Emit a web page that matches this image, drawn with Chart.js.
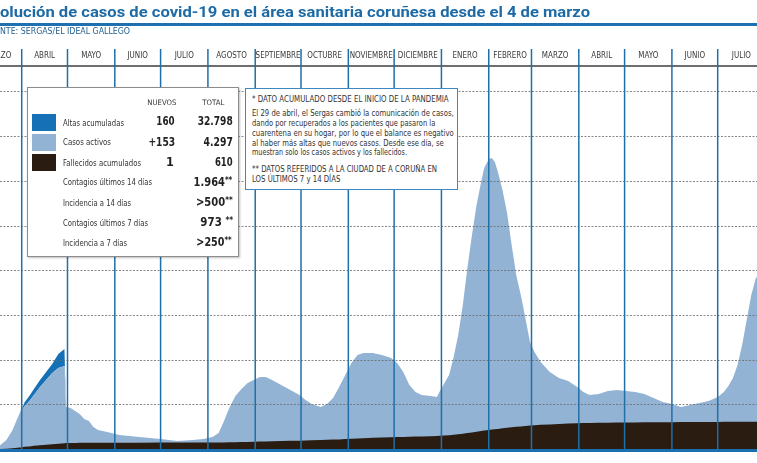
<!DOCTYPE html>
<html><head><meta charset="utf-8">
<script src="https://cdn.jsdelivr.net/npm/chart.js@4.4.0/dist/chart.umd.min.js"></script>
<style>
html,body{margin:0;padding:0;background:#fff;width:757px;height:463px;overflow:hidden;}
#wrap{position:absolute;left:0;top:0;width:757px;height:463px;}
.t{position:absolute;white-space:nowrap;font-family:"Liberation Sans Narrow","DejaVu Sans Condensed","Liberation Sans",sans-serif;color:#333;}
.l{transform-origin:left center;}
.r{transform-origin:right center;text-align:right;}
.lab{font-size:8.5px;line-height:12px;}
.num{font-size:12.6px;line-height:14px;font-weight:bold;color:#222;}
.num sup{font-size:9px;vertical-align:3px;line-height:0;}
.hd{font-size:7.5px;line-height:10px;}
.p{font-size:8.3px;line-height:10px;color:#333;}
#title{left:0;top:3px;font-family:Roboto,"Liberation Sans",sans-serif;font-weight:bold;font-size:15px;line-height:18px;color:#1d6aa5;}
#rule{position:absolute;left:0;top:23px;width:757px;height:2.5px;background:#1f70b0;}
#src{left:0;top:27px;font-size:8px;line-height:10px;color:#26618f;}
#box1{position:absolute;left:27px;top:87px;width:212px;height:170px;box-sizing:border-box;border:1px solid #8c8c8c;background:#fff;box-shadow:1px 1px 2px rgba(0,0,0,0.25);}
#box2{position:absolute;left:245px;top:88px;width:213px;height:102px;box-sizing:border-box;border:1.5px solid #3d87c3;background:#fff;}
.sw{position:absolute;left:32px;width:24px;height:17px;}
</style></head>
<body>
<div id="wrap"><canvas id="c"></canvas></div>
<div id="title" class="t l" data-w="590">olución de casos de covid-19 en el área sanitaria coruñesa desde el 4 de marzo</div>
<div id="rule"></div>
<div id="src" class="t l" data-w="130">NTE: SERGAS/EL IDEAL GALLEGO</div>

<div id="box1"></div>
<div class="sw" style="top:114px;background:#1570b5"></div>
<div class="sw" style="top:134px;background:#93b3d4"></div>
<div class="sw" style="top:154px;background:#2a1c10"></div>
<div class="t r hd" style="right:581px;top:98px" data-w="29">NUEVOS</div>
<div class="t r hd" style="right:533px;top:98px" data-w="22">TOTAL</div>
<div class="t l lab" style="left:63px;top:117px" data-w="61">Altas acumuladas</div>
<div class="t l lab" style="left:63px;top:136px" data-w="48">Casos activos</div>
<div class="t l lab" style="left:63px;top:157px" data-w="78">Fallecidos acumulados</div>
<div class="t l lab" style="left:63px;top:176px" data-w="89">Contagios últimos 14 días</div>
<div class="t l lab" style="left:63px;top:197px" data-w="68">Incidencia a 14 días</div>
<div class="t l lab" style="left:63px;top:217px" data-w="85">Contagios últimos 7 días</div>
<div class="t l lab" style="left:63px;top:237px" data-w="64">Incidencia a 7 días</div>
<div class="t r num" style="right:582px;top:114px" data-w="18.3">160</div>
<div class="t r num" style="right:582px;top:134.5px" data-w="26.7">+153</div>
<div class="t r num" style="right:583px;top:154.5px">1</div>
<div class="t r num" style="right:524px;top:114px" data-w="35">32.798</div>
<div class="t r num" style="right:524px;top:134.5px" data-w="29.3">4.297</div>
<div class="t r num" style="right:524px;top:154.5px" data-w="17.7">610</div>
<div class="t r num" style="right:525px;top:174.5px" data-w="38.7">1.964<sup>**</sup></div>
<div class="t r num" style="right:524px;top:194.5px" data-w="36.7">&gt;500<sup>**</sup></div>
<div class="t r num" style="right:524px;top:214.5px" data-w="32.7">973 <sup>**</sup></div>
<div class="t r num" style="right:525px;top:234.5px" data-w="35.3">&gt;250<sup>**</sup></div>

<div id="box2"></div>
<div class="t l p" style="left:252px;top:94px" data-w="196.7">* DATO ACUMULADO DESDE EL INICIO DE LA PANDEMIA</div>
<div class="t l p" style="left:252px;top:107.7px" data-w="201.7">El 29 de abril, el Sergas cambió la comunicación de casos,</div>
<div class="t l p" style="left:252px;top:118.3px" data-w="183.3">dando por recuperados a los pacientes que pasaron la</div>
<div class="t l p" style="left:252px;top:128.3px" data-w="201.7">cuarentena en su hogar, por lo que el balance es negativo</div>
<div class="t l p" style="left:252px;top:137.7px" data-w="191.7">al haber más altas que nuevos casos. Desde ese día, se</div>
<div class="t l p" style="left:252px;top:146.7px" data-w="155">muestran solo los casos activos y los fallecidos.</div>
<div class="t l p" style="left:252px;top:164px" data-w="185">** DATOS REFERIDOS A LA CIUDAD DE A CORUÑA EN</div>
<div class="t l p" style="left:252px;top:174px" data-w="88.3">LOS ÚLTIMOS 7 y 14 DÍAS</div>

<script>
// ---- DATA ----
const fechas = [
 '2020-03-04','2020-03-14','2020-03-18','2020-03-22','2020-03-26','2020-03-29','2020-03-31',
 '2020-04-01','2020-04-03','2020-04-06','2020-04-09','2020-04-13','2020-04-17','2020-04-21','2020-04-25','2020-04-29','2020-04-30',
 '2020-05-03','2020-05-06','2020-05-09','2020-05-12','2020-05-15','2020-05-18','2020-05-21','2020-05-27',
 '2020-06-04','2020-06-17','2020-07-01','2020-07-12','2020-07-22','2020-07-29',
 '2020-08-04','2020-08-08','2020-08-11','2020-08-15','2020-08-19','2020-08-23','2020-08-27','2020-08-31',
 '2020-09-04','2020-09-08','2020-09-12','2020-09-18','2020-09-24','2020-09-30',
 '2020-10-04','2020-10-08','2020-10-14','2020-10-18','2020-10-22','2020-10-26','2020-10-30',
 '2020-11-03','2020-11-07','2020-11-11','2020-11-17','2020-11-23','2020-11-29',
 '2020-12-03','2020-12-07','2020-12-11','2020-12-15','2020-12-19','2020-12-25','2020-12-29','2020-12-31',
 '2021-01-03','2021-01-06','2021-01-09','2021-01-12','2021-01-15','2021-01-18','2021-01-21','2021-01-24','2021-01-27','2021-01-29',
 '2021-02-01','2021-02-03','2021-02-05','2021-02-07','2021-02-10','2021-02-13','2021-02-16','2021-02-19','2021-02-22','2021-02-25','2021-02-28',
 '2021-03-03','2021-03-07','2021-03-13','2021-03-19','2021-03-25','2021-03-31',
 '2021-04-04','2021-04-08','2021-04-14','2021-04-20','2021-04-26',
 '2021-05-02','2021-05-08','2021-05-14','2021-05-20','2021-05-26',
 '2021-06-01','2021-06-07','2021-06-13','2021-06-19','2021-06-25',
 '2021-07-01','2021-07-05','2021-07-08','2021-07-11','2021-07-14','2021-07-17','2021-07-20','2021-07-23','2021-07-26','2021-07-28'
];
const casosActivos = [
 2,40,89,201,425,671,828,
 872,962,1074,1208,1387,1544,1700,1812,1857,940,
 917,850,783,671,626,492,425,380,
 313,268,224,179,201,224,
 268,358,582,917,1186,1342,1477,1544,
 1611,1611,1544,1432,1320,1208,
 1096,1007,940,1007,1141,1387,1655,
 1924,2103,2148,2148,2103,2036,
 1924,1723,1432,1275,1208,1186,1163,1300,
 1477,1655,2058,2550,3221,4049,4787,5459,5973,6286,
 6488,6510,6421,6197,5794,5280,4564,3893,3445,2931,2394,
 2170,1946,1723,1588,1521,1387,
 1275,1208,1230,1298,1320,
 1298,1275,1230,1141,1051,
 1007,940,984,1029,1074,
 1163,1275,1409,1588,1879,2327,2886,3445,3826,3893
];
const altasAcumuladas = [
 0,0,0,0,0,0,0,
 23,89,112,134,157,179,202,313,380,0,
 0,0,0,0,0,0,0,0,
 0,0,0,0,0,0,
 0,0,0,0,0,0,0,0,
 0,0,0,0,0,0,
 0,0,0,0,0,0,0,
 0,0,0,0,0,0,
 0,0,0,0,0,0,0,0,
 0,0,0,0,0,0,0,0,0,0,
 0,0,0,0,0,0,0,0,0,0,0,
 0,0,0,0,0,0,
 0,0,0,0,0,
 0,0,0,0,0,
 0,0,0,0,0,
 0,0,0,0,0,0,0,0,0,0
];
const fallecidos = [
 0,0,2,8,18,28,35,
 40,48,58,70,82,95,108,120,130,132,
 135,137,138,139,140,140,141,141,
 142,142,143,143,144,145,
 146,147,148,150,152,155,158,162,
 166,170,174,178,182,186,
 190,195,200,205,210,215,222,
 228,235,242,250,256,262,
 266,270,274,278,282,288,292,295,
 300,308,318,330,342,356,372,388,402,412,
 425,434,442,450,462,474,486,496,506,515,524,
 532,540,550,560,568,575,
 580,583,586,589,591,
 593,595,597,599,600,
 601,602,603,604,605,
 606,607,607,608,608,609,609,610,610,610
];
const meses = ['MARZO','ABRIL','MAYO','JUNIO','JULIO','AGOSTO','SEPTIEMBRE','OCTUBRE','NOVIEMBRE','DICIEMBRE','ENERO','FEBRERO','MARZO','ABRIL','MAYO','JUNIO','JULIO'];
const inicioMes = ['2020-03-01','2020-04-01','2020-05-01','2020-06-01','2020-07-01','2020-08-01','2020-09-01','2020-10-01','2020-11-01','2020-12-01','2021-01-01','2021-02-01','2021-03-01','2021-04-01','2021-05-01','2021-06-01','2021-07-01','2021-08-01'];
const yTicks = [1000,2000,3000,4000,5000,6000,7000,8000];

// ---- helpers ----
const base = Date.UTC(2020,2,4);
const dia = s => { const [y,m,d] = s.split('-').map(Number); return (Date.UTC(y,m-1,d)-base)/86400000; };
const serie = arr => fechas.map((f,i)=>({x:dia(f), y:arr[i]}));

// fit text widths
document.querySelectorAll('[data-w]').forEach(el=>{
  const w = el.getBoundingClientRect().width;
  const t = parseFloat(el.dataset.w);
  if (w>0) el.style.transform = 'scaleX(' + (t/w) + ')';
});

const NARROW = '"Liberation Sans Narrow","DejaVu Sans Condensed","Liberation Sans",sans-serif';
const deco = {
  id:'deco',
  afterDatasetsDraw(chart){
    const {ctx, chartArea:a, scales:{x,y}} = chart;
    ctx.save();
    // dashed horizontal grid
    ctx.strokeStyle='rgba(105,105,105,0.8)'; ctx.lineWidth=1; ctx.setLineDash([2,1.5]);
    yTicks.forEach(v=>{ const py=Math.round(y.getPixelForValue(v))+0.5; ctx.beginPath(); ctx.moveTo(a.left,py); ctx.lineTo(a.right,py); ctx.stroke(); });
    ctx.setLineDash([]);
    // top gray rule
    ctx.fillStyle='#6e6e6e'; ctx.fillRect(a.left, a.top-1, a.right-a.left, 2);
    // month separators
    ctx.strokeStyle='#1f6fa9'; ctx.lineWidth=1.5;
    inicioMes.forEach(s=>{ const px=x.getPixelForValue(dia(s)); if(px<-2||px>a.right+2) return; ctx.beginPath(); ctx.moveTo(px,49); ctx.lineTo(px,a.bottom+1); ctx.stroke(); });
    // month labels
    ctx.fillStyle='#383838'; ctx.font='9.3px '+NARROW; ctx.textAlign='center'; ctx.textBaseline='middle';
    const sx = 45/ctx.measureText('SEPTIEMBRE').width;
    meses.forEach((m,i)=>{
      const c=(x.getPixelForValue(dia(inicioMes[i]))+x.getPixelForValue(dia(inicioMes[i+1])))/2;
      ctx.save(); ctx.translate(c,55.5); ctx.scale(sx,1); ctx.fillText(m,0,0); ctx.restore();
    });
    // bottom blue axis line
    ctx.fillStyle='#1a6fb0'; ctx.fillRect(a.left, a.bottom, a.right-a.left, 3);
    ctx.restore();
  }
};

const common = {pointRadius:0, borderWidth:0, borderColor:'rgba(0,0,0,0)', tension:0};
new Chart(document.getElementById('c'), {
  type:'line',
  data:{datasets:[
    Object.assign({label:'Fallecidos acumulados', data:serie(fallecidos), stack:'f', fill:'origin', backgroundColor:'#2a1c10'}, common),
    Object.assign({label:'Casos activos', data:serie(casosActivos), stack:'c', fill:'origin', backgroundColor:'#93b3d4'}, common),
    Object.assign({label:'Altas acumuladas', data:serie(altasAcumuladas), stack:'c', fill:'-1', backgroundColor:'#1570b5'}, common)
  ]},
  options:{
    responsive:true, maintainAspectRatio:false, animation:false, events:[],
    layout:{padding:{top:66,bottom:14,left:0,right:0}},
    plugins:{legend:{display:false}, tooltip:{enabled:false}},
    scales:{
      x:{type:'linear', display:false, min:13.78, max:509.75},
      y:{display:false, stacked:true, min:0, max:8570}
    }
  },
  plugins:[deco]
});
</script>
</body></html>
